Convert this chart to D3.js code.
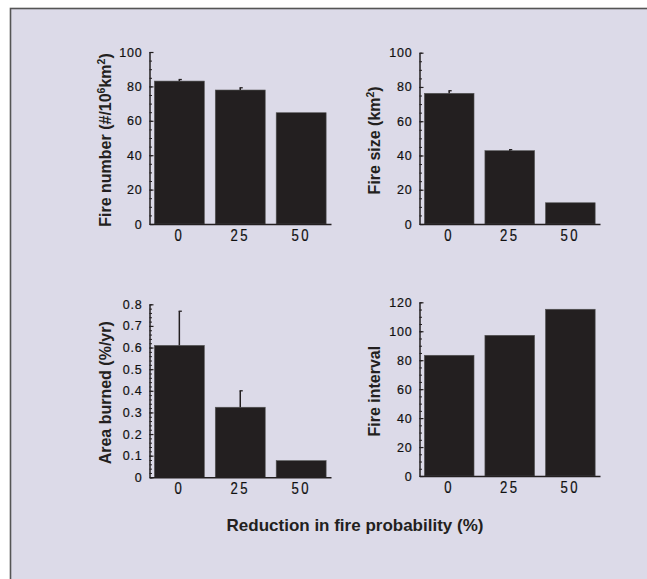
<!DOCTYPE html>
<html><head><meta charset="utf-8">
<script src="https://cdn.jsdelivr.net/npm/d3@7"></script>
<style>
html,body{margin:0;padding:0;background:#fff;}
svg{display:block;}
</style></head>
<body>
<script>
const categories = ["0", "25", "50"];
const fireNumber = [83.1, 77.9, 64.7];
const fireNumberErr = [0.9, 1.3, 0];
const fireSize = [76.3, 42.8, 12.4];
const fireSizeErr = [1.5, 0.6, 0];
const areaBurned = [0.61, 0.324, 0.077];
const areaBurnedErr = [0.158, 0.076, 0];
const fireInterval = [83.4, 97.2, 115.2];
const fireIntervalErr = [0, 0, 0];
const ticksNumber = [0, 20, 40, 60, 80, 100];
const ticksSize = [0, 20, 40, 60, 80, 100];
const ticksArea = [0, 0.1, 0.2, 0.3, 0.4, 0.5, 0.6, 0.7, 0.8];
const ticksInterval = [0, 20, 40, 60, 80, 100, 120];
const xTitle = "Reduction in fire probability (%)";

const W = 647, H = 579;
const svg = d3.select("body").append("svg").attr("width", W).attr("height", H);

// outer panel
svg.append("rect").attr("x", 10.5).attr("y", 8.5).attr("width", W + 5).attr("height", H + 5)
  .attr("fill", "#dcdae8").attr("stroke", "#555").attr("stroke-width", 1.6);

const panels = [
  {vals: fireNumber, err: fireNumberErr, ticks: ticksNumber, minor: 5, max: 100,
   ax: 149.5, x1: 331, y0: 224, y1: 52, title: [["Fire number (#/10",""],["6","sup"],["km",""],["2","sup"],[")",""]], tx: 111},
  {vals: fireSize, err: fireSizeErr, ticks: ticksSize, minor: 5, max: 100,
   ax: 419.5, x1: 600, y0: 224, y1: 52.7, title: [["Fire size (km",""],["2","sup"],[")",""]], tx: 380},
  {vals: areaBurned, err: areaBurnedErr, ticks: ticksArea, minor: 0.02, max: 0.8,
   ax: 149.5, x1: 331, y0: 477.3, y1: 304.3, title: [["Area burned (%/yr)",""]], tx: 111},
  {vals: fireInterval, err: fireIntervalErr, ticks: ticksInterval, minor: 5, max: 120,
   ax: 419.5, x1: 600, y0: 476, y1: 302.3, title: [["Fire interval",""]], tx: 380}
];

panels.forEach(p => {
  const g = svg.append("g");
  const x = d3.scaleBand().domain(categories).range([p.ax, p.x1]).paddingInner(0.18).paddingOuter(0.08);
  const y = d3.scaleLinear().domain([0, p.max]).range([p.y0, p.y1]);

  // bars
  g.selectAll("rect.bar").data(p.vals).enter().append("rect")
    .attr("x", (d, i) => x(categories[i])).attr("width", x.bandwidth())
    .attr("y", d => y(d)).attr("height", d => y(0) - y(d))
    .attr("fill", "#231f20").attr("stroke", "#555").attr("stroke-width", 0.6);

  // error bars
  p.vals.forEach((d, i) => {
    if (!p.err[i]) return;
    const cx = x(categories[i]) + x.bandwidth() / 2;
    g.append("line").attr("x1", cx).attr("x2", cx).attr("y1", y(d)).attr("y2", y(d + p.err[i]))
      .attr("stroke", "#231f20").attr("stroke-width", 1.5);
    g.append("line").attr("x1", cx - 0.7).attr("x2", cx + 2.5).attr("y1", y(d + p.err[i])).attr("y2", y(d + p.err[i]))
      .attr("stroke", "#231f20").attr("stroke-width", 1.3);
  });

  // minor ticks
  const minorVals = d3.range(0, Math.round(p.max / p.minor) + 1).map(k => k * p.minor);
  const gm = g.append("g").attr("transform", `translate(${p.ax},0)`)
    .call(d3.axisLeft(y).tickValues(minorVals).tickSize(-2.5).tickSizeOuter(0).tickFormat(""));
  gm.select(".domain").remove();
  gm.selectAll("line").attr("stroke", "#231f20").attr("stroke-width", 1);

  // y axis
  const gy = g.append("g").attr("transform", `translate(${p.ax},0)`)
    .call(d3.axisLeft(y).tickValues(p.ticks).tickSize(-4).tickSizeOuter(0).tickPadding(7).tickFormat(d => String(d)));
  gy.select(".domain").attr("stroke", "#231f20").attr("stroke-width", 1.5);
  gy.selectAll(".tick line").attr("stroke", "#231f20").attr("stroke-width", 1.2);
  gy.selectAll("text").attr("font-family", "Liberation Sans, Arial, sans-serif").attr("font-size", 12.5)
    .attr("letter-spacing", "0.8px").attr("fill", "#111").attr("stroke", "#111").attr("stroke-width", 0.2);

  // x axis
  const gx = g.append("g").attr("transform", `translate(0,${p.y0})`)
    .call(d3.axisBottom(x).tickSize(0).tickSizeOuter(0).tickPadding(4));
  gx.select(".domain").attr("stroke", "#231f20").attr("stroke-width", 1.5);
  gx.selectAll("text").attr("font-family", "Liberation Sans, Arial, sans-serif").attr("font-size", 16)
    .attr("letter-spacing", "3px").attr("fill", "#111").attr("stroke", "#111").attr("stroke-width", 0.2)
    .attr("dy", "0.8em").attr("transform", "scale(0.82,1)");

  // title
  const cy = (p.y0 + p.y1) / 2 + 2;
  const t = g.append("text").attr("transform", `translate(${p.tx},${cy}) rotate(-90)`)
    .attr("text-anchor", "middle").attr("font-family", "Liberation Sans, Arial, sans-serif")
    .attr("font-weight", "bold").attr("font-size", 16).attr("fill", "#231f20");
  p.title.forEach(([s, kind]) => {
    const ts = t.append("tspan").text(s);
    if (kind === "sup") ts.attr("font-size", 10.5).attr("baseline-shift", "super");
  });
});

svg.append("text").attr("x", 355).attr("y", 531).attr("text-anchor", "middle")
  .attr("font-family", "Liberation Sans, Arial, sans-serif").attr("font-weight", "bold")
  .attr("font-size", 17).attr("fill", "#231f20").text(xTitle);
</script>
</body></html>
